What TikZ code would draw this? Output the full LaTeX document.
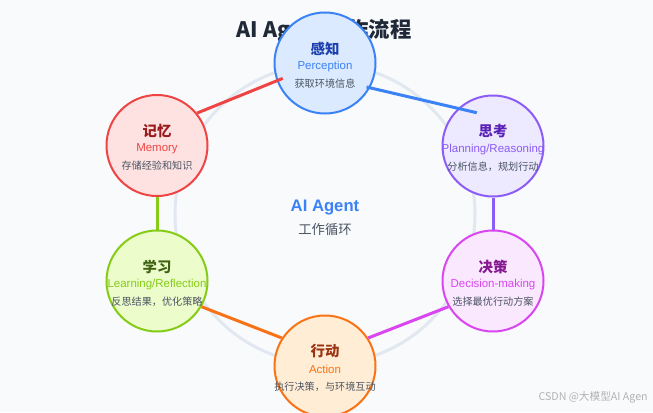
\documentclass[tikz,border=0pt]{standalone}
\usepackage{fontspec}
\setmainfont{Liberation Sans}
\newfontfamily\cjk{Noto Sans CJK SC}
\usepackage{tikz}
\usetikzlibrary{calc}
\definecolor{bgc}{HTML}{F8FAFC}
\definecolor{ringc}{HTML}{E2E8F0}
\definecolor{txtc}{HTML}{4B5563}
\definecolor{ttlc}{HTML}{1F2937}
\definecolor{perc}{HTML}{3B82F6}\definecolor{perf}{HTML}{DBEAFE}\definecolor{perd}{HTML}{1E40AF}
\definecolor{thic}{HTML}{8B5CF6}\definecolor{thif}{HTML}{EDE9FE}\definecolor{thid}{HTML}{5B21B6}
\definecolor{decc}{HTML}{D946EF}\definecolor{decf}{HTML}{FAE8FF}\definecolor{decd}{HTML}{86198F}
\definecolor{actc}{HTML}{F97316}\definecolor{actf}{HTML}{FFEDD5}\definecolor{actd}{HTML}{9A3412}
\definecolor{lrnc}{HTML}{84CC16}\definecolor{lrnf}{HTML}{ECFCCB}\definecolor{lrnd}{HTML}{3F6212}
\definecolor{memc}{HTML}{EF4444}\definecolor{memf}{HTML}{FEE2E2}\definecolor{memd}{HTML}{991B1B}

\begin{document}
\begin{tikzpicture}[x=0.75pt, y=0.75pt,
		stage/.style={circle, draw=#1c, fill=#1f, line width=1.5pt, minimum size=75.75pt, inner sep=0pt},
		sttl/.style={font=\cjk\bfseries\fontsize{10.8}{12}\selectfont, text=#1d, inner sep=0pt},
		seng/.style={font=\fontsize{8.6}{10}\selectfont, text=#1c, inner sep=0pt},
		sdsc/.style={font=\cjk\fontsize{7.6}{9}\selectfont, text=txtc, inner sep=0pt},
		flow/.style={line width=2.25pt, color=#1c}]
	\useasboundingbox (0,0) rectangle (653,412);
	\fill[bgc] (0,0) rectangle (653,412);
	%Titel und Kreis
	\node[font=\cjk\bfseries\fontsize{16}{19}\selectfont, text=ttlc] (title) at (324,381) {AI Agent工作流程};
	\draw[ringc, line width=2.25pt] (325,198) circle (150);
	\node[font=\bfseries\fontsize{12.5}{15}\selectfont, text=perc, inner sep=0pt] (hub) at (325,204) {AI Agent};
	\node[font=\cjk\fontsize{10}{12}\selectfont, text=txtc, inner sep=0pt] (hubsub) at (325,183) {工作循环};
	%Stationen
	\node[stage=per] (per) at (325,349) {};
	\node[stage=thi] (thi) at (493,266) {};
	\node[stage=dec] (dec) at (493,131) {};
	\node[stage=act] (act) at (325,46) {};
	\node[stage=lrn] (lrn) at (157,131) {};
	\node[stage=mem] (mem) at (157,266.5) {};
	\node[sttl=per] (per-t) at ($(per)+(0,14.5)$) {感知};
	\node[seng=per] (per-e) at ($(per)+(0,-3.5)$) {Perception};
	\node[sdsc] (per-d) at ($(per)+(0,-20.5)$) {获取环境信息};
	\node[sttl=thi] (thi-t) at ($(thi)+(0,14.5)$) {思考};
	\node[seng=thi] (thi-e) at ($(thi)+(0,-3.5)$) {Planning/Reasoning};
	\node[sdsc] (thi-d) at ($(thi)+(0,-20.5)$) {分析信息，规划行动};
	\node[sttl=dec] (dec-t) at ($(dec)+(0,14.5)$) {决策};
	\node[seng=dec] (dec-e) at ($(dec)+(0,-3.5)$) {Decision-making};
	\node[sdsc] (dec-d) at ($(dec)+(0,-20.5)$) {选择最优行动方案};
	\node[sttl=act] (act-t) at ($(act)+(0,14.5)$) {行动};
	\node[seng=act] (act-e) at ($(act)+(0,-3.5)$) {Action};
	\node[sdsc] (act-d) at ($(act)+(0,-20.5)$) {执行决策，与环境互动};
	\node[sttl=lrn] (lrn-t) at ($(lrn)+(0,14.5)$) {学习};
	\node[seng=lrn] (lrn-e) at ($(lrn)+(0,-3.5)$) {Learning/Reflection};
	\node[sdsc] (lrn-d) at ($(lrn)+(0,-20.5)$) {反思结果，优化策略};
	\node[sttl=mem] (mem-t) at ($(mem)+(0,14.5)$) {记忆};
	\node[seng=mem] (mem-e) at ($(mem)+(0,-3.5)$) {Memory};
	\node[sdsc] (mem-d) at ($(mem)+(0,-20.5)$) {存储经验和知识};
	%Verbindungen
	\draw[flow=per] ($(per)+(-30:48)$) -- ($(thi)+(116:37)$);
	\draw[flow=thi] (thi.south) -- (dec.north);
	\draw[flow=dec] (dec.210) -- (act.33);
	\draw[flow=act] (act.147) -- (lrn.-30);
	\draw[flow=lrn] (lrn.north) -- (mem.south);
	\draw[flow=mem] (mem.39) -- ($(per)+(200:45)$);
	\node[anchor=east, font=\cjk\fontsize{8}{10}\selectfont, text=black!30, inner sep=0pt] (mark) at (648,15) {CSDN @大模型AI Agen};
\end{tikzpicture}
\end{document}
